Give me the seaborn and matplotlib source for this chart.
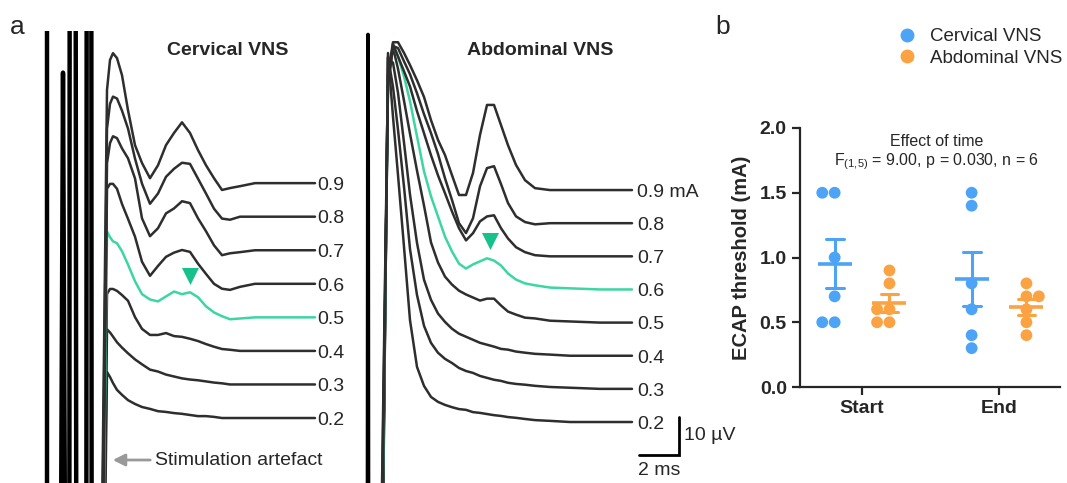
import numpy as np
import pandas as pd
import matplotlib.pyplot as plt
from matplotlib.lines import Line2D
import seaborn as sns

# ---- panel a: ECAP traces (ms after stimulus, µV above each trace's baseline) ----
levels = [0.2, 0.3, 0.4, 0.5, 0.6, 0.7, 0.8, 0.9]

cerv_t = [-0.25, 0, 0.15, 0.3, 0.5, 0.75, 1.05, 1.4, 1.75, 2.15, 2.55, 2.95, 3.35,
          3.75, 4.15, 4.55, 4.95, 5.35, 5.75, 6.15, 6.65, 7.4, 8.15, 8.9, 9.65, 10.4]
cerv_02 = [-90, 12.1, 10.8, 9.2, 7.4, 6.1, 4.7, 3.7, 2.9, 2.4, 1.8, 1.6, 1.3, 1.1, 0.8, 0.5,
           0.5, 0.3, 0, 0, 0, 0, 0, 0, 0, 0]
cerv_03 = [-90, 14.5, 13.7, 12.6, 11.1, 9.7, 8.2, 6.6, 5.3, 3.9, 3.4, 2.6, 2.1, 1.6, 1.3, 1.1,
           0.8, 0.5, 0.3, 0, 0, 0, 0, 0, 0, 0]
cerv_04 = [-90, 15.0, 16.3, 16.3, 15.8, 14.7, 13.2, 8.9, 5.8, 4.2, 4.2, 4.7, 3.9, 3.7, 3.2, 2.6,
           1.8, 1.1, 0.5, 0.3, 0, 0, 0, 0, 0, 0]
cerv_05 = [-90, 22.6, 21.1, 20.0, 19.5, 17.4, 13.9, 9.5, 6.1, 4.7, 4.2, 5.5, 6.8, 6.1, 6.6, 5.3,
           2.9, 1.3, 0.3, -0.5, -0.3, 0, 0, 0, 0, 0]
cerv_06 = [-90, 25.0, 26.3, 26.3, 25.0, 21.0, 17.1, 12.4, 5.8, 2.1, 4.7, 7.1, 8.2, 8.9, 8.4, 5.3,
           2.6, 0, -1.3, -1.6, -0.8, 0, 0, 0, 0, 0]
cerv_07 = [-90, 22.9, 28.2, 30.0, 29.5, 26.8, 24.2, 18.9, 8.4, 3.7, 5.8, 9.7, 11.0, 12.9, 12.4, 8.4,
           5.0, 1.3, -1.3, -0.8, -0.5, 0, 0, 0, 0, 0]
cerv_08 = [-90, 23.2, 29.7, 31.6, 31.1, 27.9, 23.2, 15.3, 8.7, 3.4, 6.1, 10.5, 12.6, 14.2, 13.9, 10.0,
           6.1, 2.1, -0.5, -0.8, 0, 0, 0, 0, 0, 0]
cerv_09 = [-90, 24.5, 32.4, 34.2, 32.9, 28.4, 19.2, 10.0, 5.3, 1.3, 4.7, 10.0, 13.2, 16.0, 13.2, 8.7,
           4.7, 1.3, -1.8, -1.3, -0.8, 0, 0, 0, 0, 0]
cerv_traces = [cerv_02, cerv_03, cerv_04, cerv_05, cerv_06, cerv_07, cerv_08, cerv_09]

abd_t = [-0.25, 0.25, 0.5, 0.75, 1.05, 1.35, 1.7, 2.05, 2.4, 2.75, 3.1, 3.45, 3.8, 4.15,
         4.5, 4.85, 5.2, 5.55, 5.9, 6.25, 6.65, 7.1, 7.6, 8.35, 9.35, 10.85, 12.45]
abd_02 = [-150, 97.1, 80.3, 65.0, 46.1, 26.8, 14.5, 9.5, 6.6, 5.3, 4.5, 3.9, 3.4, 3.2, 2.6, 2.4,
          2.1, 1.8, 1.6, 1.3, 1.1, 0.8, 0.5, 0.3, 0, 0, 0]
abd_03 = [-150, 87.4, 79.5, 68.2, 53.2, 36.8, 24.7, 16.6, 12.1, 9.5, 7.9, 6.8, 5.5, 4.7, 4.2, 3.4,
          2.9, 2.4, 2.1, 1.6, 1.3, 1.1, 0.8, 0.5, 0.3, 0, 0]
abd_04 = [-150, 78.4, 77.1, 69.2, 56.1, 42.4, 29.7, 20.0, 14.7, 11.1, 8.9, 7.1, 5.8, 5.0, 4.2, 3.4,
          2.9, 2.4, 1.8, 1.6, 1.1, 0.8, 0.5, 0.3, 0, 0, 0]
abd_05 = [-150, 63.7, 72.4, 66.8, 58.4, 49.7, 40.0, 30.8, 21.1, 15.8, 12.1, 10.0, 8.4, 7.4, 6.6, 5.8,
          6.3, 6.3, 4.5, 2.9, 2.1, 1.3, 1.1, 0.5, 0.3, 0, 0]
abd_06 = [-150, 54.7, 64.7, 61.3, 56.1, 49.5, 40.3, 31.1, 24.5, 19.2, 13.9, 10.0, 6.8, 5.5, 6.6, 7.4,
          8.2, 7.6, 6.3, 4.2, 2.6, 1.6, 1.1, 0.5, 0.3, 0, 0]
abd_07 = [-150, 44.7, 55.8, 52.6, 48.7, 44.7, 38.2, 32.4, 26.6, 21.3, 16.6, 11.8, 7.4, 4.2, 6.1, 9.2,
          10.5, 10.8, 7.4, 4.7, 2.4, 1.1, 0.3, 0, 0, 0, 0]
abd_08 = [-150, 37.4, 46.6, 46.1, 42.6, 39.2, 34.2, 28.7, 23.7, 18.2, 11.8, 6.1, 0, -2.6, 1.3, 9.7,
          14.5, 15.0, 10.3, 5.3, 1.8, 0.3, -0.3, 0, 0, 0, 0]
abd_09 = [-150, 30.3, 38.9, 38.9, 36.1, 32.9, 28.9, 24.5, 18.4, 13.2, 9.2, 3.9, -1.3, -1.3, 4.5, 14.5,
          22.4, 22.4, 17.1, 11.8, 6.6, 2.6, 0.5, 0, 0, 0, 0]
abd_traces = [abd_02, abd_03, abd_04, abd_05, abd_06, abd_07, abd_08, abd_09]

# stimulation artefacts (absolute µV, off-scale values run out of the panel)
art_cerv_t = [-3.0, -3.0, -2.45, -2.2, -1.95, -1.9, -1.85, -1.6, -1.5, -1.05, -1.0, -0.8, -0.75]
art_cerv_v = [300, -200, -200, 108, -200, -200, 300, 300, -200, -200, 300, 300, -200]
art_abd_t = [-0.8, -0.75, -0.7]
art_abd_v = [-200, 118, -200]

cerv_threshold = 0.5
abd_threshold = 0.6

# ---- panel b: thresholds ----
times = ["Start", "End"]
sites = ["Cervical VNS", "Abdominal VNS"]
cerv_start = [1.5, 1.5, 1.0, 0.7, 0.5, 0.5]
cerv_end = [1.5, 1.4, 0.8, 0.6, 0.4, 0.3]
abd_start = [0.9, 0.8, 0.6, 0.6, 0.5, 0.5]
abd_end = [0.8, 0.7, 0.7, 0.6, 0.5, 0.4]

rows = []
for site, t, vals in [(sites[0], times[0], cerv_start), (sites[0], times[1], cerv_end),
                      (sites[1], times[0], abd_start), (sites[1], times[1], abd_end)]:
    rows += [{"site": site, "time": t, "threshold": v} for v in vals]
df = pd.DataFrame(rows)

sns.set_style("ticks")
plt.rcParams['font.family'] = ['Liberation Sans', 'DejaVu Sans']
plt.rcParams['mathtext.fontset'] = 'custom'
plt.rcParams['mathtext.rm'] = 'Liberation Sans'
plt.rcParams['mathtext.it'] = 'Liberation Sans:italic'

blue, orange = '#4da3f5', '#fba343'
green, green_mark = '#3dd6a3', '#17c18c'
trace_col = '#2e2e2e'

fig = plt.figure(figsize=(10.67, 4.83), dpi=100)

# ---------------- panel a ----------------
ax_a = fig.add_axes([40 / 1067, 0, 660 / 1067, 452 / 483])
ax_a.set_xlim(0, 33)
ax_a.set_ylim(0, 452 / 3.8)
ax_a.axis('off')

x0_cerv, x0_abd = 3.35, 17.15
base_cerv, step_cerv = 17.1, 8.83
base_abd, step_abd = 16.05, 8.72

ax_a.plot(np.array(art_cerv_t) + x0_cerv, art_cerv_v, color='black', lw=3.2)
ax_a.plot(np.array(art_abd_t) + x0_abd, art_abd_v, color='black', lw=2.8)

for i, lev in enumerate(levels):
    c_col = green if lev == cerv_threshold else trace_col
    a_col = green if lev == abd_threshold else trace_col
    yc = base_cerv + i * step_cerv
    ya = base_abd + i * step_abd
    ax_a.plot(np.array(cerv_t) + x0_cerv, np.array(cerv_traces[i]) + yc, color=c_col, lw=1.8)
    ax_a.plot(np.array(abd_t) + x0_abd, np.array(abd_traces[i]) + ya, color=a_col, lw=1.8)
    ax_a.text(13.85, yc - 0.6, f"{lev:.1f}", fontsize=14, va='center', ha='left')
    lab = f"{lev:.1f} mA" if lev == levels[-1] else f"{lev:.1f}"
    ax_a.text(29.85, ya - 0.6, lab, fontsize=14, va='center', ha='left', clip_on=False)

ax_a.scatter([x0_cerv + 4.15], [54.5], marker='v', s=150, color=green_mark, zorder=5, linewidths=0)
ax_a.scatter([x0_abd + 5.35], [63.7], marker='v', s=150, color=green_mark, zorder=5, linewidths=0)

ax_a.text(9.4, 113.9, "Cervical VNS", fontsize=14, fontweight='bold', ha='center', va='center')
ax_a.text(25.0, 113.9, "Abdominal VNS", fontsize=14, fontweight='bold', ha='center', va='center')

ax_a.annotate("", xy=(3.5, 6.05), xytext=(5.65, 6.05),
              arrowprops=dict(arrowstyle='-|>', color='#999999', lw=2, mutation_scale=18))
ax_a.text(5.75, 6.05, "Stimulation artefact", fontsize=14, va='center', ha='left')

# scale bar
sb_x, sb_y, scale_ms, scale_uv = 31.95, 7.37, 2, 10
ax_a.plot([sb_x - scale_ms, sb_x, sb_x], [sb_y, sb_y, sb_y + scale_uv], color='black', lw=2,
          solid_joinstyle='miter', clip_on=False)
ax_a.text(sb_x + 0.25, sb_y + scale_uv / 2, "10 µV", fontsize=14, va='center', ha='left', clip_on=False)
ax_a.text(sb_x - scale_ms / 2, 3.2, "2 ms", fontsize=14, va='center', ha='center')

# ---------------- panel b ----------------
ax_b = fig.add_axes([800 / 1067, 96 / 483, 260 / 1067, 259 / 483])
palette = {sites[0]: blue, sites[1]: orange}
sns.swarmplot(data=df, x='time', y='threshold', hue='site', order=times, hue_order=sites,
              dodge=True, palette=palette, size=8.5, ax=ax_b, legend=False, clip_on=False, zorder=2)
sns.pointplot(data=df, x='time', y='threshold', hue='site', order=times, hue_order=sites,
              dodge=0.4, errorbar='se', capsize=0.13, linestyle='none', marker='_',
              markersize=25, markeredgewidth=2.6, err_kws={'linewidth': 2.2},
              palette=palette, ax=ax_b, legend=False, zorder=3)

ax_b.set_xlim(-0.453, 1.445)
ax_b.set_ylim(0, 2.0)
ax_b.set_yticks([0, 0.5, 1.0, 1.5, 2.0])
ax_b.set_yticklabels([f"{v:.1f}" for v in [0, 0.5, 1.0, 1.5, 2.0]])
ax_b.set_xlabel("")
ax_b.set_ylabel("ECAP threshold (mA)", fontsize=14.5, fontweight='bold', labelpad=6)
for lab in ax_b.get_xticklabels() + ax_b.get_yticklabels():
    lab.set_fontweight('bold')
ax_b.tick_params(axis='both', labelsize=14, width=1.6, length=6)
for s in ['left', 'bottom']:
    ax_b.spines[s].set_linewidth(1.6)
sns.despine(ax=ax_b)

ax_b.text(0.547, 1.892, "Effect of time", fontsize=11.5, ha='center', va='center')
ax_b.text(0.547, 1.737, r"F$_{(1{,}5)}$ = 9.00, p = 0.030, n = 6", fontsize=11.5, ha='center', va='center')

handles = [Line2D([], [], marker='o', ls='none', color=blue, markersize=9),
           Line2D([], [], marker='o', ls='none', color=orange, markersize=9)]
fig.legend(handles, sites, loc='upper left', bbox_to_anchor=(898 / 1067, 1 - 28 / 483),
           frameon=False, fontsize=13.5, handlelength=1.0, handletextpad=0.7,
           labelspacing=0.25, borderaxespad=0, borderpad=0)

fig.text(10 / 1067, 1 - 27 / 483, "a", fontsize=19, va='center', ha='left')
fig.text(715 / 1067, 1 - 27 / 483, "b", fontsize=19, va='center', ha='left')

fig.savefig('out.png', dpi=100)
